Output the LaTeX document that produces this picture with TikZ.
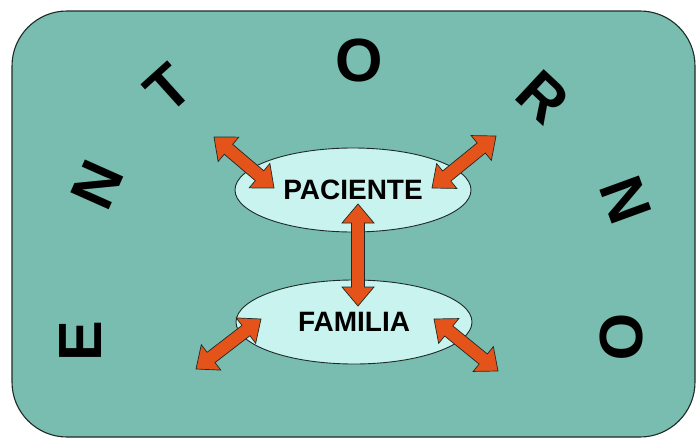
\documentclass[tikz,border=0pt]{standalone}
\usepackage{fontspec}
\setmainfont{Liberation Sans}
\usetikzlibrary{shapes.geometric,calc}
\definecolor{bgteal}{HTML}{78BDAF}
\definecolor{ellfill}{HTML}{C8F3EE}
\definecolor{arroworange}{HTML}{E4541A}
\definecolor{edgedark}{HTML}{1E2A26}
\tikzset{
  panel/.style={draw=edgedark, line width=1.1pt, fill=bgteal, rounded corners=55pt},
  bubble/.style={ellipse, draw=edgedark, line width=0.9pt, fill=ellfill, inner sep=0pt,
    minimum width=236pt, minimum height=84pt, font=\fontsize{28}{28}\selectfont\bfseries},
  bigletter/.style={font=\fontsize{61}{61}\selectfont\bfseries, inner sep=0pt, text=black},
  darrow/.style={draw=edgedark, line width=0.7pt, fill=arroworange, line join=miter}
}
% double block arrow between two named coordinates
\newcommand\linkarrow[2]{%
  \coordinate (hA) at ($(#1)!19pt!(#2)$);
  \coordinate (hB) at ($(#2)!19pt!(#1)$);
  \draw[darrow] (#1)
    -- ($(hA)!16pt!90:(#2)$) -- ($(hA)!6.5pt!90:(#2)$)
    -- ($(hB)!6.5pt!-90:(#1)$) -- ($(hB)!16pt!-90:(#1)$)
    -- (#2)
    -- ($(hB)!16pt!90:(#1)$) -- ($(hB)!6.5pt!90:(#1)$)
    -- ($(hA)!6.5pt!-90:(#2)$) -- ($(hA)!16pt!-90:(#2)$)
    -- cycle;}
\begin{document}
\begin{tikzpicture}[x=1pt,y=-1pt]
\path[use as bounding box, fill=white] (0,0) rectangle (698,439);
\draw[panel] (12,11) rectangle (695,437);
% letters
\node[bigletter, rotate=90] (lE) at (81,341) {E};
\node[bigletter, rotate=66] (lN1) at (97,185) {N};
\node[bigletter, rotate=42] (lT) at (168,88) {T};
\node[bigletter] (lO1) at (359,61) {O};
\node[bigletter, rotate=-43] (lR) at (543,97) {R};
\node[bigletter, rotate=-70] (lN2) at (626,200) {N};
\node[bigletter, rotate=-90] (lO2) at (621,337) {O};
% bubbles
\node[bubble] (pac) at (353,190) {PACIENTE};
\node[bubble] (fam) at (354,322) {FAMILIA};
% arrow end points
\coordinate (a1s) at (214,137); \coordinate (a1e) at (274,188);
\coordinate (a2s) at (496,136); \coordinate (a2e) at (432,188);
\coordinate (a3s) at (358,204); \coordinate (a3e) at (358,306);
\coordinate (a4s) at (261,319); \coordinate (a4e) at (196,369);
\coordinate (a5s) at (434,319); \coordinate (a5e) at (498,371);
\linkarrow{a1s}{a1e}
\linkarrow{a2s}{a2e}
\linkarrow{a3s}{a3e}
\linkarrow{a4s}{a4e}
\linkarrow{a5s}{a5e}
\end{tikzpicture}
\end{document}
